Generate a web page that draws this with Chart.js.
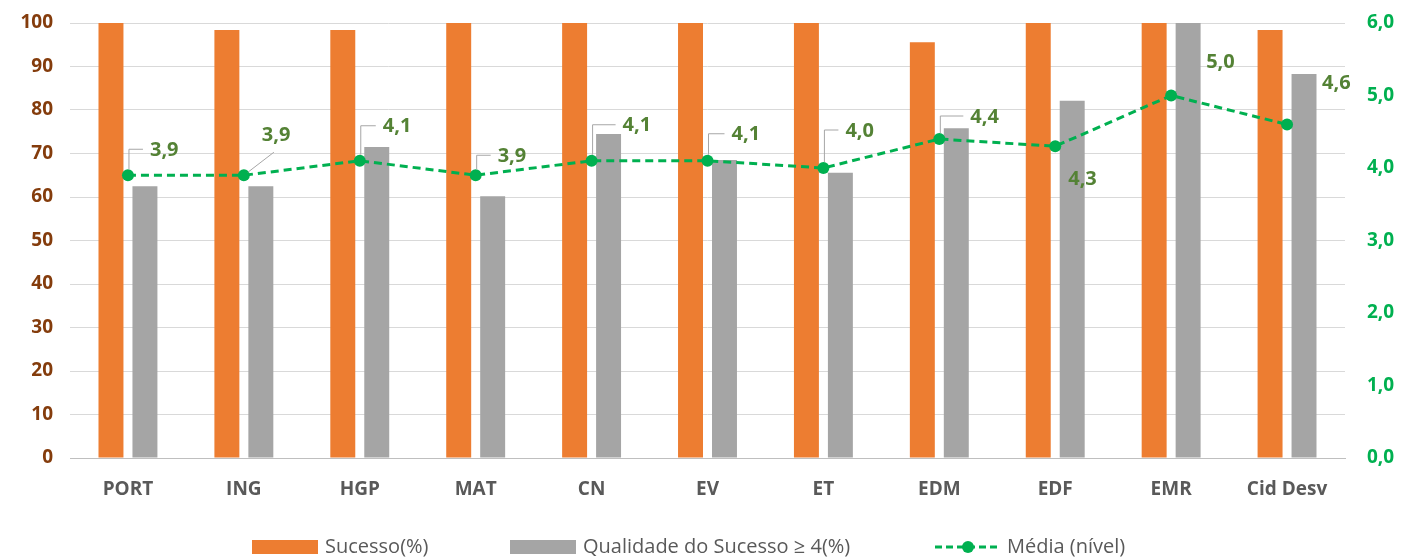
<!DOCTYPE html>
<html>
<head>
<meta charset="utf-8">
<script src="https://cdn.jsdelivr.net/npm/chart.js@4/dist/chart.umd.min.js"></script>
<style>
  html, body { margin: 0; padding: 0; background: #ffffff; }
  #wrap { width: 1403px; height: 560px; position: relative; }
</style>
</head>
<body>
<div id="wrap"><canvas id="c" width="1403" height="560"></canvas></div>
<script>
// Disciplinas
const categories = ['PORT', 'ING', 'HGP', 'MAT', 'CN', 'EV', 'ET', 'EDM', 'EDF', 'EMR', 'Cid Desv'];
// Sucesso (%)
const sucesso = [100, 98.4, 98.4, 100, 100, 100, 100, 95.6, 100, 100, 98.4];
// Qualidade do Sucesso >= 4 (%)
const qualidade = [62.5, 62.5, 71.5, 60.2, 74.5, 68.5, 65.6, 75.8, 82.1, 100, 88.3];
// Média (nível)
const media = [3.9, 3.9, 4.1, 3.9, 4.1, 4.1, 4.0, 4.4, 4.3, 5.0, 4.6];
// Axis ticks
const leftTicks = [0, 10, 20, 30, 40, 50, 60, 70, 80, 90, 100];
const rightTicks = [0, 1, 2, 3, 4, 5, 6];

const seriesNames = ['Sucesso(%)', 'Qualidade do Sucesso \u2265 4(%)', 'M\u00e9dia (n\u00edvel)'];

const ORANGE = '#ED7D31';
const GREY = '#A5A5A5';
const GREEN = '#00B050';
const LABEL_GREEN = '#548235';
const BROWN = '#843C0C';
const TEXT_GREY = '#595959';
const FONT = '"Open Sans", Lato, "Noto Sans", sans-serif';

// Placement of the "Média" value labels: offset from the point and leader type
const labelPlacement = [
  { dx: 22, dy: -25, leader: 'elbow' },
  { dx: 18, dy: -40, leader: 'diag' },
  { dx: 23, dy: -34, leader: 'elbow' },
  { dx: 22, dy: -19, leader: 'elbow' },
  { dx: 31, dy: -35, leader: 'elbow' },
  { dx: 24, dy: -26, leader: 'elbow' },
  { dx: 22, dy: -37, leader: 'elbow' },
  { dx: 31, dy: -22, leader: 'elbow' },
  { dx: 13, dy: 33, leader: 'none' },
  { dx: 35, dy: -33, leader: 'none' },
  { dx: 35, dy: -41, leader: 'none' }
];

const fmt1 = v => v.toFixed(1).replace('.', ',');

const mediaLabels = {
  id: 'mediaLabels',
  afterDatasetsDraw(chart) {
    const ctx = chart.ctx;
    const meta = chart.getDatasetMeta(2);
    ctx.save();
    ctx.font = 'bold 20px ' + FONT;
    ctx.textBaseline = 'middle';
    ctx.textAlign = 'left';
    meta.data.forEach((pt, i) => {
      const p = labelPlacement[i];
      const tx = pt.x + p.dx;
      const ty = pt.y + p.dy;
      ctx.strokeStyle = '#A6A6A6';
      ctx.lineWidth = 1;
      if (p.leader === 'elbow') {
        ctx.beginPath();
        ctx.moveTo(pt.x + 1, pt.y - 6);
        ctx.lineTo(pt.x + 1, ty - 1);
        ctx.lineTo(tx - 7, ty - 1);
        ctx.stroke();
      } else if (p.leader === 'diag') {
        ctx.beginPath();
        ctx.moveTo(pt.x + 4, pt.y - 3);
        ctx.lineTo(tx + 12, ty + 17);
        ctx.stroke();
      }
      ctx.fillStyle = LABEL_GREEN;
      ctx.fillText(fmt1(media[i]), tx, ty);
    });
    ctx.restore();
  }
};

const customLegend = {
  id: 'customLegend',
  afterDraw(chart) {
    const ctx = chart.ctx;
    const y = 547;
    ctx.save();
    ctx.font = '20px ' + FONT;
    ctx.textBaseline = 'middle';
    ctx.textAlign = 'left';
    ctx.fillStyle = ORANGE;
    ctx.fillRect(252, y - 7, 66, 14);
    ctx.fillStyle = TEXT_GREY;
    ctx.fillText(seriesNames[0], 325, y);
    ctx.fillStyle = GREY;
    ctx.fillRect(510, y - 7, 66, 14);
    ctx.fillStyle = TEXT_GREY;
    ctx.fillText(seriesNames[1], 583, y);
    ctx.strokeStyle = GREEN;
    ctx.lineWidth = 3;
    ctx.setLineDash([7, 4]);
    ctx.beginPath();
    ctx.moveTo(935, y);
    ctx.lineTo(1001, y);
    ctx.stroke();
    ctx.setLineDash([]);
    ctx.fillStyle = GREEN;
    ctx.beginPath();
    ctx.arc(968, y, 6, 0, Math.PI * 2);
    ctx.fill();
    ctx.fillStyle = TEXT_GREY;
    ctx.fillText(seriesNames[2], 1007, y);
    ctx.restore();
  }
};

function noVerticalPadding(scale) {
  scale.paddingTop = 0;
  scale.paddingBottom = 0;
}

new Chart(document.getElementById('c'), {
  type: 'bar',
  data: {
    labels: categories,
    datasets: [
      {
        label: seriesNames[0],
        data: sucesso,
        backgroundColor: ORANGE,
        yAxisID: 'y',
        order: 2,
        categoryPercentage: 0.586,
        barPercentage: 0.735
      },
      {
        label: seriesNames[1],
        data: qualidade,
        backgroundColor: GREY,
        yAxisID: 'y',
        order: 2,
        categoryPercentage: 0.586,
        barPercentage: 0.735
      },
      {
        type: 'line',
        label: seriesNames[2],
        data: media,
        yAxisID: 'y1',
        borderColor: GREEN,
        backgroundColor: GREEN,
        borderWidth: 3,
        borderDash: [8, 5],
        pointRadius: 6,
        pointHoverRadius: 6,
        pointBackgroundColor: GREEN,
        pointBorderWidth: 0,
        tension: 0,
        order: 1
      }
    ]
  },
  options: {
    responsive: false,
    animation: false,
    events: [],
    layout: { padding: { top: 23, bottom: 0, left: 0, right: 0 } },
    plugins: {
      legend: { display: false },
      tooltip: { enabled: false }
    },
    scales: {
      x: {
        grid: { display: false, drawTicks: false },
        border: { display: true, color: '#BFBFBF', width: 1 },
        ticks: {
          color: TEXT_GREY,
          font: { family: FONT, size: 19, weight: 'bold' },
          padding: 20,
          maxRotation: 0,
          autoSkip: false
        },
        afterFit(scale) { scale.height = 102; }
      },
      y: {
        position: 'left',
        min: 0,
        max: 100,
        afterBuildTicks(scale) { scale.ticks = leftTicks.map(v => ({ value: v })); },
        grid: { color: '#D9D9D9', lineWidth: 1, drawTicks: false },
        border: { display: false },
        ticks: {
          color: BROWN,
          font: { family: FONT, size: 19, weight: 'bold' },
          padding: 17
        },
        afterFit(scale) { scale.width = 70; noVerticalPadding(scale); }
      },
      y1: {
        position: 'right',
        min: 0,
        max: 6,
        afterBuildTicks(scale) { scale.ticks = rightTicks.map(v => ({ value: v })); },
        grid: { display: false, drawTicks: false },
        border: { display: false },
        ticks: {
          color: GREEN,
          font: { family: FONT, size: 19, weight: 'bold' },
          padding: 22,
          callback: v => fmt1(v)
        },
        afterFit(scale) { scale.width = 58; noVerticalPadding(scale); }
      }
    }
  },
  plugins: [mediaLabels, customLegend]
});
</script>
</body>
</html>
